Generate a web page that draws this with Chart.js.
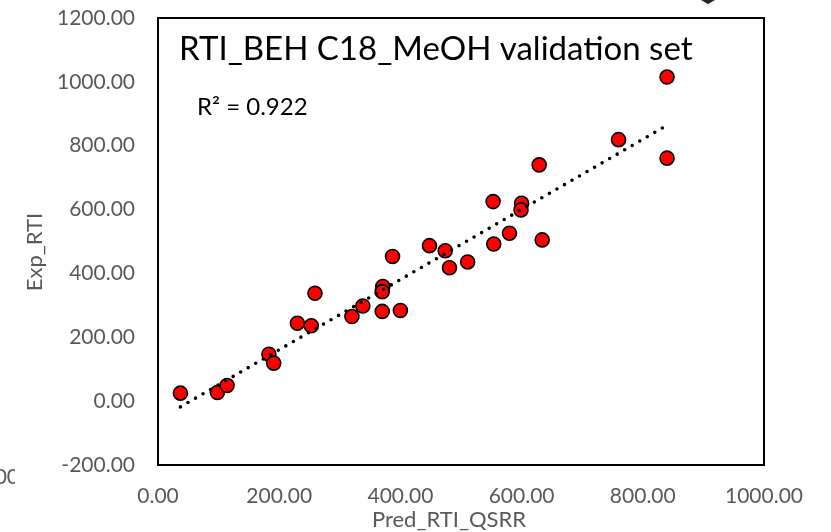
<!DOCTYPE html>
<html>
<head>
<meta charset="utf-8">
<script src="https://cdn.jsdelivr.net/npm/chart.js@4.4.1/dist/chart.umd.min.js"></script>
<style>
  html, body { margin: 0; padding: 0; background: #fff; }
  #wrap { width: 831px; height: 532px; }
</style>
</head>
<body>
<div id="wrap"><canvas id="rtiChart" width="831" height="532"></canvas></div>
<script>
// Pred_RTI_QSRR (x) vs Exp_RTI (y), validation set
const predRTI = [37, 98, 114, 183, 191, 230, 253, 259, 320, 338, 371, 370, 370, 400, 387, 448, 474, 481, 511, 554, 553, 580, 600, 599, 629, 634, 760, 840, 840];
const expRTI = [25, 27, 49, 147, 119, 244, 236, 338, 265, 298, 359, 343, 281, 284, 453, 487, 471, 418, 436, 492, 625, 526, 620, 599, 740, 505, 819, 1015, 761];

// linear trendline ends
const trendX = [37, 840];
const trendY = [-18, 864];

const xTicks = [0, 200, 400, 600, 800, 1000];
const yTicks = [-200, 0, 200, 400, 600, 800, 1000, 1200];

const chartTitle = "RTI_BEH C18_MeOH validation set";
const r2Label = "R\u00B2 = 0.922";
const xTitle = "Pred_RTI_QSRR";
const yTitle = "Exp_RTI";

const grey = "#595959";
const fontName = "Lato";

// frame, in-plot title, R2 label and axis titles
const extras = {
  id: "extras",
  afterDraw(chart) {
    const ctx = chart.ctx;
    const a = chart.chartArea;
    ctx.save();

    ctx.strokeStyle = "#000";
    ctx.lineWidth = 2;
    ctx.strokeRect(a.left, a.top, a.right - a.left, a.bottom - a.top);

    ctx.fillStyle = "#000";
    ctx.textAlign = "left";
    ctx.textBaseline = "alphabetic";
    ctx.font = "33px " + fontName;
    ctx.fillText(chartTitle, a.left + 21, 60);
    ctx.font = "24px " + fontName;
    ctx.fillText(r2Label, a.left + 39, 115);

    ctx.fillStyle = grey;
    ctx.font = "22px " + fontName;
    ctx.textAlign = "center";
    ctx.textBaseline = "middle";
    ctx.fillText(xTitle, 449, 520);
    ctx.save();
    ctx.translate(35, 252);
    ctx.rotate(-Math.PI / 2);
    ctx.fillText(yTitle, 0, 0);
    ctx.restore();

    // clipped label from a neighbouring chart
    ctx.save();
    ctx.beginPath();
    ctx.rect(0, 460, 15, 30);
    ctx.clip();
    ctx.font = "21px " + fontName;
    ctx.textAlign = "right";
    ctx.fillText("1200.00", 19, 477);
    ctx.restore();

    // tip of the cursor shape at the top edge
    ctx.shadowColor = "rgba(0,0,0,0.35)";
    ctx.shadowBlur = 6;
    ctx.fillStyle = "#222";
    ctx.beginPath();
    ctx.moveTo(701, 0);
    ctx.lineTo(715, 0);
    ctx.lineTo(708, 4);
    ctx.closePath();
    ctx.fill();

    ctx.restore();
  },
};

const ctx = document.getElementById("rtiChart").getContext("2d");

new Chart(ctx, {
  type: "scatter",
  data: {
    datasets: [
      {
        label: "Trend",
        data: trendX.map((x, i) => ({ x: x, y: trendY[i] })),
        showLine: true,
        borderColor: "#000",
        borderWidth: 3.6,
        borderDash: [0, 8.7],
        borderCapStyle: "round",
        pointRadius: 0,
        order: 0,
      },
      {
        label: "Validation set",
        data: predRTI.map((x, i) => ({ x: x, y: expRTI[i] })),
        backgroundColor: "#ff0000",
        borderColor: "#000",
        borderWidth: 1.6,
        pointRadius: 7,
        order: 1,
      },
    ],
  },
  options: {
    responsive: false,
    animation: false,
    devicePixelRatio: 1,
    layout: {
      padding: { left: 0, right: 67, top: 18, bottom: 0 },
    },
    plugins: {
      legend: { display: false },
      tooltip: { enabled: false },
    },
    scales: {
      x: {
        type: "linear",
        min: xTicks[0],
        max: xTicks[xTicks.length - 1],
        afterBuildTicks: (scale) => {
          scale.ticks = xTicks.map((v) => ({ value: v }));
        },
        afterFit: (scale) => {
          scale.height = 67;
          scale.paddingLeft = 0;
          scale.paddingRight = 0;
        },
        grid: { display: false, drawTicks: false },
        border: { display: false },
        ticks: {
          padding: 19,
          color: grey,
          font: { family: fontName, size: 21 },
          maxRotation: 0,
          callback: (v) => Number(v).toFixed(2),
        },
      },
      y: {
        type: "linear",
        min: yTicks[0],
        max: yTicks[yTicks.length - 1],
        afterBuildTicks: (scale) => {
          scale.ticks = yTicks.map((v) => ({ value: v }));
        },
        afterFit: (scale) => {
          scale.width = 158;
          scale.paddingTop = 0;
          scale.paddingBottom = 0;
        },
        grid: { display: false, drawTicks: false },
        border: { display: false },
        ticks: {
          padding: 23,
          color: grey,
          font: { family: fontName, size: 21 },
          callback: (v) => Number(v).toFixed(2),
        },
      },
    },
  },
  plugins: [extras],
});
</script>
</body>
</html>
